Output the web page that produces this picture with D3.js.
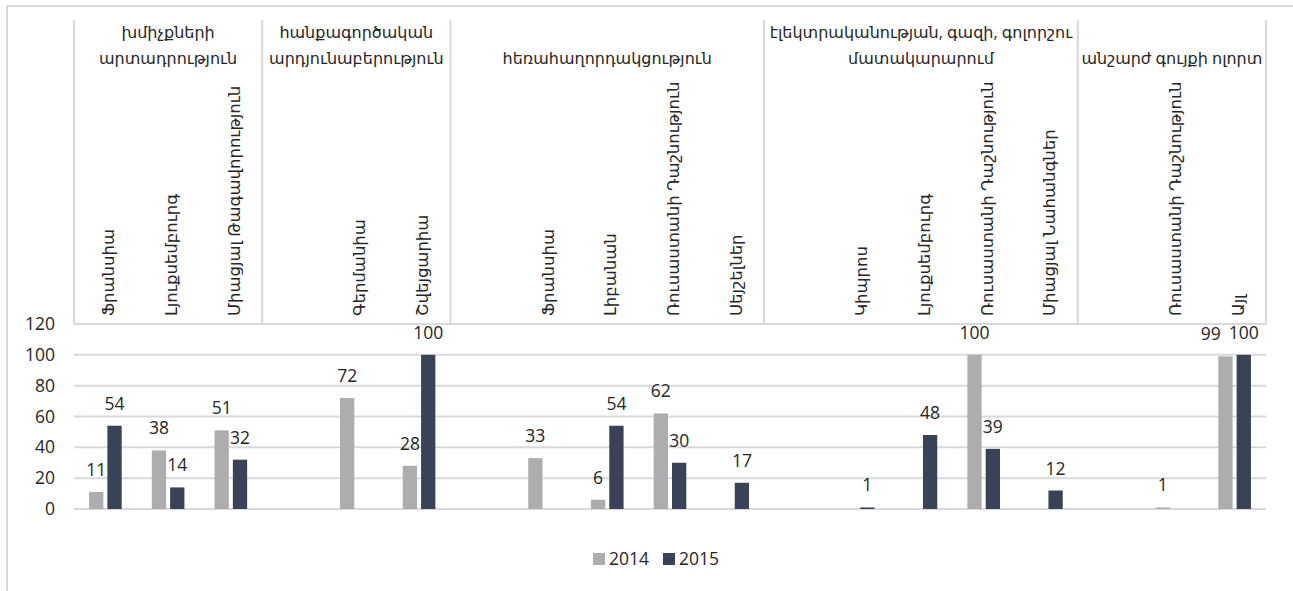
<!DOCTYPE html>
<html>
<head>
<meta charset="utf-8">
<script src="https://cdn.jsdelivr.net/npm/d3@7"></script>
<style>
  body { margin: 0; background: #fff; }
  svg text { font-family: "Open Sans", "DejaVu Sans", sans-serif; fill: #262626; }
</style>
</head>
<body>
<svg id="chart" width="1293" height="591"></svg>
<script>
// sector groups, each with its category list (first slot of later groups is blank)
const groups = [
    ["խմիչքների", "արտադրություն"],
    ["հանքագործական", "արդյունաբերություն"],
    ["հեռահաղորդակցություն"],
    ["էլեկտրականության, գազի, գոլորշու", "մատակարարում"],
    ["անշարժ գույքի ոլորտ"]
]
const countries = [
    ["Ֆրանսիա", "Լյուքսեմբուրգ", "Միացյալ Թագավորություն"],
    ["", "Գերմանիա", "Շվեյցարիա"],
    ["", "Ֆրանսիա", "Լիբանան", "Ռուսաստանի Դաշնություն", "Սեյշելներ"],
    ["", "Կիպրոս", "Լյուքսեմբուրգ", "Ռուսաստանի Դաշնություն", "Միացյալ Նահանգներ"],
    ["", "Ռուսաստանի Դաշնություն", "Այլ"]
]
const values2014 = [
    [11, 38, 51],
    [null, 72, 28],
    [null, 33, 6, 62, null],
    [null, null, null, 100, null],
    [null, 1, 99]
]
const values2015 = [
    [54, 14, 32],
    [null, null, 100],
    [null, null, 54, 30, 17],
    [null, 1, 48, 39, 12],
    [null, null, 100]
]
const years = ["2014", "2015"]
const colors = ["#adacaf", "#394256"]
const yTicks = [0, 20, 40, 60, 80, 100, 120]

// flatten into categories
let cats = [];
countries.forEach(function (list, g) {
    list.forEach(function (name, i) {
        cats.push({
            key: g + "_" + i, group: g, name: name,
            values: [values2014[g][i], values2015[g][i]]
        })
    })
})

const svg = d3.select("#chart");
const plotLeft = 74, plotRight = 1266, headTop = 20, plotTop = 324, plotBottom = 509;

let x0 = d3.scaleBand()
    .domain(cats.map(d => d.key))
    .range([plotLeft, plotRight])
    .paddingInner(0.48)
    .paddingOuter(0.24)
let x1 = d3.scaleBand()
    .domain(years)
    .range([0, x0.bandwidth()])
    .paddingInner(0.22)
let y = d3.scaleLinear()
    .domain([0, 120])
    .range([plotBottom, plotTop])

// outer frame
svg.append("path")
    .attr("d", "M7,591 V6 H1293")
    .attr("fill", "none")
    .attr("stroke", "#d9d9d9")
    .attr("stroke-width", 2)

// gridlines
svg.append("g")
    .selectAll("line")
    .data(yTicks)
    .join("line")
    .attr("x1", plotLeft)
    .attr("x2", plotRight)
    .attr("y1", d => y(d))
    .attr("y2", d => y(d))
    .attr("stroke", "#d9d9d9")
    .attr("stroke-width", 2)

// y tick labels
svg.append("g")
    .selectAll("text")
    .data(yTicks)
    .join("text")
    .attr("x", 55)
    .attr("y", d => y(d))
    .attr("dy", "0.35em")
    .attr("text-anchor", "end")
    .attr("font-size", "17.5px")
    .text(d => d)

// group boundaries in the header table
let bounds = [0];
countries.forEach(function (list) { bounds.push(bounds[bounds.length - 1] + list.length) })
const bx = i => plotLeft + i * x0.step();

svg.append("g")
    .selectAll("line")
    .data(bounds)
    .join("line")
    .attr("x1", d => bx(d))
    .attr("x2", d => bx(d))
    .attr("y1", headTop)
    .attr("y2", plotTop)
    .attr("stroke", "#d9d9d9")
    .attr("stroke-width", 2)

// group titles, clipped to their cell
const defs = svg.append("defs");
groups.forEach(function (lines, g) {
    let x_a = bx(bounds[g]), x_b = bx(bounds[g + 1]);
    defs.append("clipPath")
        .attr("id", "clip" + g)
        .append("rect")
        .attr("x", x_a + 1)
        .attr("y", headTop)
        .attr("width", x_b - x_a - 2)
        .attr("height", 60)
    svg.append("g")
        .attr("clip-path", "url(#clip" + g + ")")
        .selectAll("text")
        .data(lines)
        .join("text")
        .attr("x", (x_a + x_b) / 2)
        .attr("y", (d, i) => 58 - (lines.length - 1 - i) * 26)
        .attr("dy", "0.35em")
        .attr("text-anchor", "middle")
        .attr("font-size", "16px")
        .text(d => d)
})

// rotated country labels
svg.append("g")
    .selectAll("text")
    .data(cats.filter(d => d.name !== ""))
    .join("text")
    .attr("transform", d => "translate(" + (x0(d.key) + x0.bandwidth() / 2 + 9) + ",316) rotate(-90)")
    .attr("font-size", "16.5px")
    .text(d => d.name)

// bars
let bars = [];
cats.forEach(function (c) {
    c.values.forEach(function (v, s) {
        if (v !== null) bars.push({ key: c.key, year: years[s], s: s, value: v })
    })
})

svg.append("g")
    .selectAll("rect")
    .data(bars)
    .join("rect")
    .attr("x", d => x0(d.key) + x1(d.year))
    .attr("y", d => y(d.value))
    .attr("width", x1.bandwidth())
    .attr("height", d => y(0) - y(d.value))
    .attr("fill", d => colors[d.s])

// value labels; nudge a 2014 label left when it would collide with its 2015 neighbour
let labels = bars.map(function (d) {
    return { ...d, cx: x0(d.key) + x1(d.year) + x1.bandwidth() / 2, cy: y(d.value) - 16 }
})
labels.forEach(function (d) {
    if (d.s !== 0) return;
    let other = labels.find(o => o.key === d.key && o.s === 1);
    if (other && Math.abs(other.cy - d.cy) < 14 && other.cx - d.cx < 30) {
        d.cx = other.cx - 33;
    }
})

svg.append("g")
    .selectAll("text")
    .data(labels)
    .join("text")
    .attr("x", d => d.cx)
    .attr("y", d => d.cy)
    .attr("text-anchor", "middle")
    .attr("font-size", "17.5px")
    .text(d => d.value)

// legend
const legend = svg.append("g").attr("transform", "translate(593,553)");
let items = legend.selectAll("g")
    .data(years)
    .join("g")
    .attr("transform", (d, i) => "translate(" + i * 70 + ",0)")
items.append("rect")
    .attr("width", 12)
    .attr("height", 12)
    .attr("fill", (d, i) => colors[i])
items.append("text")
    .attr("x", 16)
    .attr("y", 6)
    .attr("dy", "0.35em")
    .attr("font-size", "17.5px")
    .text(d => d)
</script>
</body>
</html>
